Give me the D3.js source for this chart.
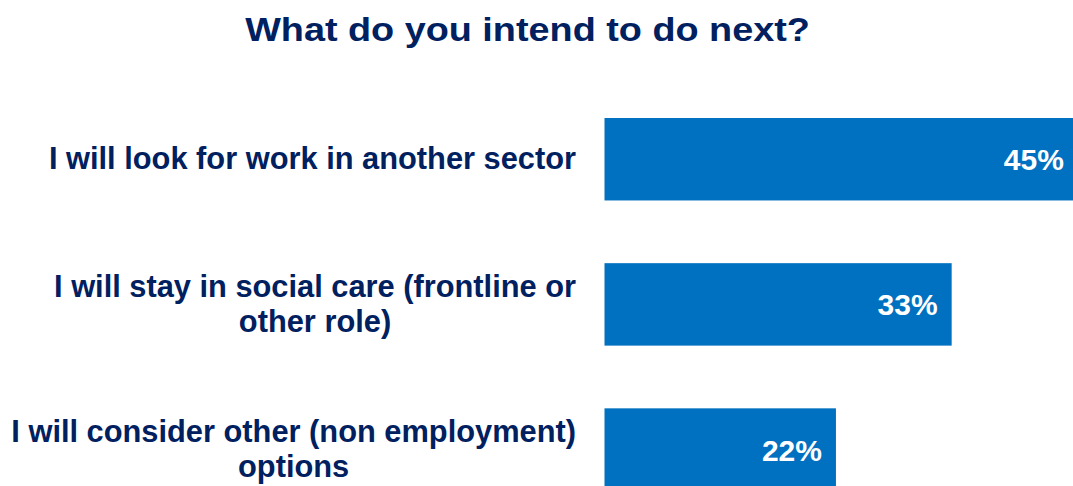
<!DOCTYPE html>
<html>
<head>
<meta charset="utf-8">
<script src="https://cdn.jsdelivr.net/npm/d3@7"></script>
<style>
  html, body { margin: 0; padding: 0; background: #ffffff; }
  svg { display: block; }
  text { font-family: "Liberation Sans", Arial, Helvetica, sans-serif; font-weight: bold; }
</style>
</head>
<body>
<script>
// Survey responses: intentions after leaving the current role
const chartTitle = "What do you intend to do next?";
const categories = [
  ["I will look for work in another sector"],
  ["I will stay in social care (frontline or", "other role)"],
  ["I will consider other (non employment)", "options"]
];
const values = [45, 33, 22];
const valueLabels = ["45%", "33%", "22%"];

const W = 1073, H = 486;
const navy = "#002060", barBlue = "#0070c0";

const svg = d3.select("body").append("svg")
  .attr("width", W).attr("height", H);

// Title: wide bold heading, stretched horizontally to its box
const titleText = svg.append("text")
  .attr("text-anchor", "middle")
  .attr("fill", navy)
  .attr("font-size", 34)
  .text(chartTitle);
const titleW = titleText.node().getComputedTextLength();
titleText.attr("transform", `translate(527.5,40.5) scale(${565 / titleW},1)`);

const idx = d3.range(values.length);

const y = d3.scaleBand()
  .domain(idx)
  .range([55.3, 553.5])
  .padding(0.432);

const x = d3.scaleLinear()
  .domain([0, 50])
  .range([604.5, 1130.5]);

// Bars
svg.append("g").selectAll("rect")
  .data(idx)
  .join("rect")
  .attr("x", x(0))
  .attr("y", i => y(i))
  .attr("width", i => x(values[i]) - x(0))
  .attr("height", y.bandwidth())
  .attr("fill", barBlue);

// Value labels inside bar ends
svg.append("g").selectAll("text")
  .data(idx)
  .join("text")
  .attr("x", i => x(values[i]) - 14)
  .attr("y", i => y(i) + y.bandwidth() / 2 + 11)
  .attr("text-anchor", "end")
  .attr("fill", "#ffffff")
  .attr("font-size", 30)
  .text(i => valueLabels[i]);

// Category labels: right-aligned block, lines centred within the block
const labelRight = 576;
const lineGap = 35;
const labelG = svg.append("g");
idx.forEach(i => {
  const lines = categories[i];
  const cy = y(i) + y.bandwidth() / 2;
  const g = labelG.append("g");
  const texts = g.selectAll("text")
    .data(lines)
    .join("text")
    .attr("fill", navy)
    .attr("font-size", 30.8)
    .attr("text-anchor", "middle")
    .attr("y", (d, k) => cy + 10 + (k - (lines.length - 1) / 2) * lineGap)
    .text(d => d);
  let maxW = 0;
  texts.each(function () { maxW = Math.max(maxW, this.getComputedTextLength()); });
  texts.attr("x", labelRight - maxW / 2);
});
</script>
</body>
</html>
